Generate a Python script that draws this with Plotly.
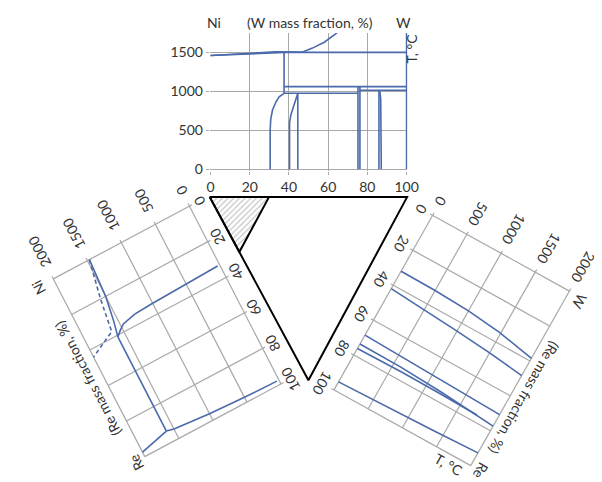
import numpy as np
import plotly.graph_objects as go

FIG_W, FIG_H = 602, 482

# ---------------- data ----------------
top_c_ticks = [0, 20, 40, 60, 80, 100]
top_t_ticks = [0, 500, 1000, 1500]
side_c_ticks = [0, 20, 40, 60, 80, 100]
side_c_labels = ["0", "20", "40", "60", "80", "100"]
side_t_ticks = [0, 500, 1000, 1500, 2000]
side_t_labels = ["0", "500", "1000", "1500", "2000"]

# Ni–W binary (top), c = W mass fraction %
niw_solidus_c = [0, 20, 37.5]
niw_solidus_t = [1460, 1478, 1500]
niw_liquidus_c = [0, 20, 33, 47, 52, 58, 64.5]
niw_liquidus_t = [1460, 1490, 1506, 1505, 1555, 1630, 1750]
niw_peritectic_c = [37.5, 100]
niw_peritectic_t = [1500, 1500]
niw_ni_edge_c = [37.5, 37.5]
niw_ni_edge_t = [1500, 975]
niw_upper_c = [37.5, 100]
niw_upper_t = [1060, 1060]
niw_lower_c = [37.5, 75.2]
niw_lower_t = [975, 975]
niw_w2_top_c = [76.2, 100]
niw_w2_top_t = [1015, 1015]
niw_solvus_c = [37.5, 35, 33.4, 31.6, 30.7, 30.4, 30.4]
niw_solvus_t = [975, 930, 866, 760, 640, 500, 0]
ni4w_left_c = [40.3, 40.3, 41, 43, 44.5]
ni4w_left_t = [0, 600, 700, 850, 975]
ni4w_right_c = [44.5, 44.5]
ni4w_right_t = [0, 975]
niw_a_c = [75.2, 75.2]
niw_a_t = [0, 1060]
niw_b_c = [76.2, 76.2]
niw_b_t = [0, 1060]
niw2_left_c = [85.9, 85.9]
niw2_left_t = [0, 1015]
niw2_right_c = [87.1, 87.1, 86.8, 86.3]
niw2_right_t = [0, 750, 900, 1015]
w_edge_c = [100, 100]
w_edge_t = [0, 1750]

# Ni–Re binary (left), c = Re mass fraction %
nire_solidus_c = [0, 10, 20, 33, 40.8]
nire_solidus_t = [1470, 1485, 1500, 1555, 1600]
nire_peritectic_c = [40.8, 93.8]
nire_peritectic_t = [1600, 1600]
nire_re_liq_c = [93.8, 97.5]
nire_re_liq_t = [1600, 2000]
nire_liq_dash_c = [0, 20, 37, 44]
nire_liq_dash_t = [1470, 1575, 1640, 2000]
nire_ni_solvus_c = [33, 33.5, 34.2, 34.7, 36.4, 38.6, 40.8]
nire_ni_solvus_t = [30, 500, 1025, 1270, 1460, 1537, 1600]
nire_re_solvus_c = [97.8, 97.3, 96.3, 94.7, 93.8]
nire_re_solvus_t = [30, 500, 1000, 1500, 1600]

# W–Re binary (right), c = Re mass fraction %
wre_l1_c = [32, 32.2, 33, 34.9, 38.5]
wre_l1_t = [0, 500, 1000, 1480, 2000]
wre_l2_c = [42, 43.2, 44.6, 46.2, 48.4]
wre_l2_t = [0, 500, 1000, 1500, 2000]
wre_l3_c = [68.6, 69.2, 69.8, 70.8]
wre_l3_t = [0, 550, 1200, 2000]
wre_l4_c = [73.7, 73.9, 75, 76.4, 77.4]
wre_l4_t = [0, 600, 1200, 1750, 2000]
wre_l5_c = [76.3, 75.9, 76, 76.4]
wre_l5_t = [0, 640, 1200, 1750]
wre_l6_c = [95.4, 94.4, 93.7, 92.7]
wre_l6_t = [0, 900, 1375, 2000]

# ternary: hatched corner (mass fraction of W, Re at its vertices)
hatch_w = [0, 30, 0]
hatch_re = [0, 0, 30]

# ---------------- styles / geometry ----------------
BLUE = "#4a6aab"
GRID = "#a8a8a8"
TXT = "#333333"
FONT = "Lato"
FS = 14

# top chart pixel mapping
TX0, TXP = 204.3, 2.007      # px at c=0, px per %
TY0, TYP = 163.3, 0.0789     # px at T=0, px per degC
X_RANGE = [-0.4, 100.4]
Y_RANGE = [-20, 1750]

# side diagrams: origin (c=0,T=0), c-vector per %, T-vector per degC
LEFT = dict(o=(182.7, 200.7), cv=(0.937, 1.800), tv=(-0.0697, 0.0368))
RIGHT = dict(o=(431.7, 210.0), cv=(-1.010, 1.767), tv=(0.0700, 0.03835))
LEFT_ANGLE = -117.5
RIGHT_ANGLE = 119.7

# triangle (pixel positions of Ni, W, Re corners)
TRI_TOP_Y = 191.5
V_NI = (TX0 - 0.8, TRI_TOP_Y)
V_W = (TX0 + 100 * TXP + 0.5, TRI_TOP_Y)
V_RE = (304.5, 377.0)


def top_xy(c, t):
    return TX0 + TXP * c, TY0 - TYP * t


def side_xy(g, c, t):
    c = np.asarray(c, float)
    t = np.asarray(t, float)
    return (g["o"][0] + g["cv"][0] * c + g["tv"][0] * t,
            g["o"][1] + g["cv"][1] * c + g["tv"][1] * t)


def unit(v):
    n = float(np.hypot(v[0], v[1]))
    return (v[0] / n, v[1] / n)


def text_w(s, fs=FS):
    w = 0.0
    for ch in s:
        w += 0.58 * fs if ch.isdigit() else 0.5 * fs
    return w


fig = go.Figure()

# ---------- top chart (native axes) ----------
top_curves = [
    (niw_solidus_c, niw_solidus_t), (niw_liquidus_c, niw_liquidus_t),
    (niw_peritectic_c, niw_peritectic_t), (niw_ni_edge_c, niw_ni_edge_t),
    (niw_upper_c, niw_upper_t), (niw_lower_c, niw_lower_t),
    (niw_w2_top_c, niw_w2_top_t), (niw_solvus_c, niw_solvus_t),
    (ni4w_left_c, ni4w_left_t), (ni4w_right_c, ni4w_right_t),
    (niw_a_c, niw_a_t), (niw_b_c, niw_b_t),
    (niw2_left_c, niw2_left_t), (niw2_right_c, niw2_right_t),
    (w_edge_c, w_edge_t),
]
for cc, tt in top_curves:
    fig.add_trace(go.Scatter(x=cc, y=tt, mode="lines", xaxis="x", yaxis="y",
                             line=dict(color=BLUE, width=1.6),
                             hoverinfo="skip", showlegend=False))


def add_ann(x, y, text, angle):
    fig.add_annotation(x=float(x), y=float(y), text=text, textangle=angle,
                       xref="x2", yref="y2", showarrow=False, xanchor="center",
                       yanchor="middle", font=dict(family=FONT, size=FS, color=TXT))


def add_side(g, curves, dashed, angle, t_gap, c_off, names, title_pos, extra=None):
    cu = unit(g["cv"])
    tu = unit(g["tv"])
    ext_c = 3 / float(np.hypot(*g["cv"]))
    ext_t = 3 / float(np.hypot(*g["tv"]))
    gx, gy = [], []
    for c in side_c_ticks:
        x, y = side_xy(g, [c, c], [-ext_t, 2000])
        gx += list(x) + [None]
        gy += list(y) + [None]
    for t in side_t_ticks:
        x, y = side_xy(g, [-ext_c, 100], [t, t])
        gx += list(x) + [None]
        gy += list(y) + [None]
    fig.add_trace(go.Scatter(x=gx, y=gy, mode="lines", xaxis="x2", yaxis="y2",
                             line=dict(color=GRID, width=1.2),
                             hoverinfo="skip", showlegend=False))
    for cc, tt in curves:
        x, y = side_xy(g, cc, tt)
        fig.add_trace(go.Scatter(x=x, y=y, mode="lines", xaxis="x2", yaxis="y2",
                                 line=dict(color=BLUE, width=1.6),
                                 hoverinfo="skip", showlegend=False))
    for cc, tt in dashed:
        x, y = side_xy(g, cc, tt)
        fig.add_trace(go.Scatter(x=x, y=y, mode="lines", xaxis="x2", yaxis="y2",
                                 line=dict(color=BLUE, width=1.6, dash="4px,3px"),
                                 hoverinfo="skip", showlegend=False))
    for t, lab in zip(side_t_ticks, side_t_labels):
        x, y = side_xy(g, 0, t)
        d = t_gap + text_w(lab) / 2
        add_ann(x - d * cu[0], y - d * cu[1], lab, angle)
    for c, lab in zip(side_c_ticks, side_c_labels):
        x, y = side_xy(g, c, 0)
        add_ann(x - c_off * tu[0], y - c_off * tu[1], lab, angle)
    for (c, t, lab) in names + [title_pos]:
        x, y = side_xy(g, c, t)
        add_ann(x, y, lab, angle)
    if extra:
        c, t, lab, ang = extra
        x, y = side_xy(g, c, t)
        add_ann(x, y, lab, ang)


add_side(LEFT,
         [(nire_solidus_c, nire_solidus_t), (nire_peritectic_c, nire_peritectic_t),
          (nire_re_liq_c, nire_re_liq_t), (nire_ni_solvus_c, nire_ni_solvus_t),
          (nire_re_solvus_c, nire_re_solvus_t)],
         [(nire_liq_dash_c, nire_liq_dash_t)],
         LEFT_ANGLE, 14, 11,
         [(0.5, 2220, "Ni"), (100.5, 2135, "Re")],
         (52, 2195, "(Re mass fraction, %)"))

add_side(RIGHT,
         [(wre_l1_c, wre_l1_t), (wre_l2_c, wre_l2_t), (wre_l3_c, wre_l3_t),
          (wre_l4_c, wre_l4_t), (wre_l5_c, wre_l5_t), (wre_l6_c, wre_l6_t)],
         [],
         RIGHT_ANGLE, 12, 13.5,
         [(1.9, 2171, "W"), (100, 2140, "Re")],
         (57.5, 2173, "(Re mass fraction, %)"),
         extra=(104.6, 1746, "T, °C", RIGHT_ANGLE - 90))

# ---------- ternary triangle ----------
def tern_xy(w, re):
    w = np.asarray(w, float) / 100
    re = np.asarray(re, float) / 100
    return (V_NI[0] + w * (V_W[0] - V_NI[0]) + re * (V_RE[0] - V_NI[0]),
            V_NI[1] + w * (V_W[1] - V_NI[1]) + re * (V_RE[1] - V_NI[1]))


hx, hy = tern_xy(hatch_w + hatch_w[:1], hatch_re + hatch_re[:1])
fig.add_trace(go.Scatter(x=hx, y=hy, mode="lines", fill="toself", xaxis="x2", yaxis="y2",
                         fillcolor="rgba(255,255,255,0)",
                         fillpattern=dict(shape="/", fgcolor="#8c8c8c", size=4,
                                          solidity=0.3, bgcolor="white"),
                         line=dict(color="black", width=2),
                         hoverinfo="skip", showlegend=False))
tx, ty = tern_xy([0, 100, 0, 0], [0, 0, 100, 0])
fig.add_trace(go.Scatter(x=tx, y=ty, mode="lines", xaxis="x2", yaxis="y2",
                         line=dict(color="black", width=2),
                         hoverinfo="skip", showlegend=False))

# ---------- top chart texts (placed through the top chart's own scale) ----------
for (c, t, lab, ang) in [(1.9, 1880, "Ni", 0), (98.3, 1880, "W", 0),
                         (50.7, 1880, "(W mass fraction, %)", 0),
                         (102.6, 1545, "T, °C", -90)]:
    px, py = top_xy(c, t)
    add_ann(px, py, lab, ang)

x_dom = [(TX0 + X_RANGE[0] * TXP) / FIG_W, (TX0 + X_RANGE[1] * TXP) / FIG_W]
y_dom = [1 - (TY0 - Y_RANGE[0] * TYP) / FIG_H, 1 - (TY0 - Y_RANGE[1] * TYP) / FIG_H]

fig.update_layout(
    width=FIG_W, height=FIG_H, autosize=False,
    margin=dict(l=0, r=0, t=0, b=0),
    paper_bgcolor="white", plot_bgcolor="rgba(0,0,0,0)",
    showlegend=False,
    xaxis=dict(domain=x_dom, range=X_RANGE, tickvals=top_c_ticks, anchor="y",
               showgrid=True, gridcolor=GRID, gridwidth=1.2, zeroline=False,
               showline=False, ticks="outside", ticklen=3, tickcolor=GRID,
               tickfont=dict(family=FONT, size=FS, color=TXT), fixedrange=True),
    yaxis=dict(domain=y_dom, range=Y_RANGE, tickvals=top_t_ticks, anchor="x",
               showgrid=True, gridcolor=GRID, gridwidth=1.2, zeroline=False,
               showline=False, ticks="outside", ticklen=3, tickcolor=GRID,
               tickfont=dict(family=FONT, size=FS, color=TXT), fixedrange=True),
    xaxis2=dict(domain=[0, 1], range=[0, FIG_W], anchor="y2", visible=False,
                fixedrange=True),
    yaxis2=dict(domain=[0, 1], range=[FIG_H, 0], anchor="x2", visible=False,
                fixedrange=True),
)

fig.write_html("out.html")
